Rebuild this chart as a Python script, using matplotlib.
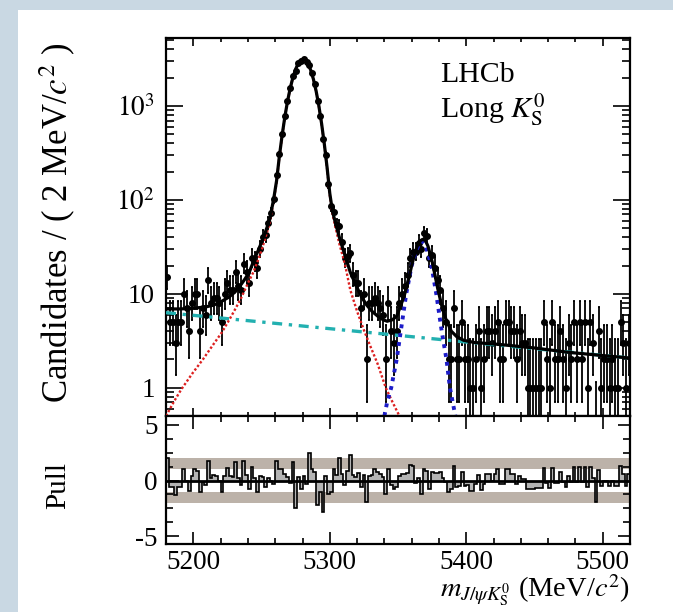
import numpy as np
import matplotlib
matplotlib.use("Agg")
import matplotlib.pyplot as plt
from matplotlib.ticker import MultipleLocator, LogLocator, NullFormatter
from matplotlib.patches import Rectangle

plt.rcParams['font.family'] = ['Liberation Serif', 'DejaVu Serif']
plt.rcParams['mathtext.fontset'] = 'stix'

# binning: 2 MeV bins from 5180 to 5520
edges = np.arange(5180, 5521, 2)
centers = edges[:-1] + 1

# candidates per bin
counts = [
    15, 5, 5, 3, 5, 5, 10, 7, 4, 8,
    10, 10, 4, 7, 6, 14, 8, 9, 9, 8,
    5, 10, 13, 11, 11, 17, 12, 11, 21, 17,
    13, 24, 22, 19, 30, 40, 42, 57, 72, 102,
    183, 305, 503, 774, 1129, 1543, 2100, 2354, 2870, 3040,
    3155, 2959, 2763, 2225, 1713, 1133, 783, 447, 304, 147,
    86, 74, 54, 53, 36, 24, 25, 27, 16, 13,
    13, 7, 10, 2, 8, 8, 9, 8, 7, 6,
    2, 8, 4, 3, 4, 8, 10, 12, 16, 24,
    28, 28, 35, 30, 44, 41, 24, 26, 19, 14,
    11, 7, 5, 2, 2, 7, 2, 2, 5, 2,
    2, 1, 1, 2, 4, 1, 2, 4, 4, 3,
    4, 5, 2, 2, 5, 5, 4, 4, 2, 4,
    3, 3, 1, 1, 1, 1, 1, 1, 5, 2,
    1, 5, 2, 2, 4, 2, 1, 3, 2, 5,
    2, 5, 2, 5, 1, 5, 3, 0, 4, 1,
    2, 2, 1, 2, 1, 1, 5, 3, 1, 3]

# pulls per bin
pulls = [
    2.0, -0.6, -0.6, -1.3, -0.6, -0.6, 1.0, 0.0, -0.9, 0.4,
    1.0, 0.9, -1.0, -0.1, -0.4, 1.8, 0.2, 0.5, 0.4, 0.0,
    -1.0, 0.4, 1.1, 0.4, 0.3, 1.7, 0.2, -0.4, 1.8, 0.5,
    -0.8, 1.2, 0.2, -1.0, 0.4, 0.3, -0.6, 0.2, 0.0, -0.3,
    1.8, 1.0, 1.0, 0.6, 0.3, -0.2, 1.7, -2.5, 0.3, -0.8,
    0.4, -0.3, 2.5, 1.0, 0.8, -2.2, -1.0, -2.8, 0.4, -1.2,
    -1.0, 1.0, 0.5, 2.0, 0.6, -0.4, 0.9, 2.3, 0.5, 0.3,
    0.7, -0.6, 0.5, -1.9, 0.4, 0.5, 1.0, 0.8, 0.6, 0.3,
    -1.2, 1.0, -0.4, -0.8, -0.6, 0.4, 0.6, 0.6, 0.7, 1.4,
    1.3, -0.2, 0.2, -1.2, 1.0, 0.9, -0.8, 0.8, 0.7, 0.7,
    0.8, 0.2, -0.1, -1.0, -0.8, 1.3, -0.6, -0.5, 0.8, -0.45,
    -0.4, -0.9, -0.9, -0.35, 0.5, -0.85, -0.35, 0.55, 0.55, 0.0,
    0.56, 1.0, -0.35, -0.33, 1.0, 1.0, 0.6, 0.6, -0.3, 0.4,
    0.15, 0.15, -0.73, -0.73, -0.72, -0.71, -0.7, -0.69, 1.1, -0.2,
    -0.67, 1.15, -0.2, -0.18, 0.8, -0.16, -0.61, 0.37, -0.14, 1.2,
    -0.13, 1.25, -0.11, 1.26, -0.55, 1.2, 0.27, -1.9, 0.95, -0.51,
    -0.06, -0.06, -0.5, -0.05, -0.49, -0.49, 1.34, 0.55, -0.47, 0.56]

# total fit
x_tot = [5180, 5190, 5200, 5210, 5215, 5220, 5226, 5230, 5234, 5238,
         5241, 5244, 5248, 5252, 5256, 5259, 5261, 5263, 5265, 5267,
         5269, 5271, 5273, 5275, 5277, 5279, 5280.5, 5282, 5284, 5286,
         5288, 5290, 5292, 5294, 5296, 5298, 5300, 5302, 5304, 5307,
         5311, 5315, 5319, 5323, 5327, 5331, 5335, 5339, 5342, 5346,
         5349, 5352, 5355, 5358, 5360, 5362, 5364, 5366, 5368, 5370,
         5372, 5375, 5377, 5379, 5382, 5385, 5389, 5393, 5398, 5406,
         5423, 5450, 5475, 5500, 5520]
y_tot = [6.9, 6.9, 7.0, 7.3, 7.6, 8.2, 9.2, 10.3, 12.0, 14.5,
         17, 22, 30, 42, 62, 105, 160, 288, 481, 757,
         1119, 1551, 2023, 2478, 2854, 3085, 3140, 3080, 2824, 2417,
         1929, 1437, 999, 648, 392, 222, 117, 75, 58, 40,
         26, 17, 12.5, 9.4, 7.6, 6.5, 5.8, 5.3, 5.1, 5.3,
         5.8, 7.5, 10.1, 15, 20, 26, 32, 36.5, 38, 37,
         32, 22, 16, 11.5, 7.5, 5.4, 4.0, 3.5, 3.2, 3.03,
         2.9, 2.65, 2.38, 2.2, 2.07]

# B0 signal component
x_sig = [5180, 5186, 5191, 5199, 5207, 5214, 5221, 5227, 5231, 5235,
         5240, 5244, 5248, 5252, 5256, 5259, 5261, 5263, 5265, 5267,
         5269, 5271, 5273, 5275, 5277, 5279, 5280.5, 5282, 5284, 5286,
         5288, 5290, 5292, 5294, 5296, 5298, 5300, 5302, 5304, 5307,
         5311, 5315, 5320, 5325, 5330, 5335, 5341, 5346, 5351]
y_sig = [0.5, 0.72, 0.95, 1.4, 2.0, 2.8, 3.9, 5.5, 7.0, 9.0,
         13, 17, 24, 36, 57, 100, 155, 283, 476, 752,
         1114, 1546, 2018, 2473, 2849, 3080, 3135, 3075, 2819, 2412,
         1924, 1432, 994, 643, 387, 217, 112, 70, 52, 34,
         21, 11, 6.5, 4.1, 2.7, 1.8, 1.0, 0.7, 0.5]

# Bs component
x_bs = [5340, 5342, 5345, 5349, 5352, 5356, 5360, 5363, 5365.5, 5367.5,
        5369.5, 5372, 5375, 5378, 5382, 5385.5, 5388, 5392]
y_bs = [0.5, 0.7, 1.0, 2.0, 4.0, 10, 20, 28, 34, 36.5,
        34, 27, 18, 10, 4.0, 2.0, 1.0, 0.5]

# combinatorial background
x_bkg = [5180, 5520]
y_bkg = [6.3, 2.07]

n = np.array(counts, float)
nn = np.maximum(n, 1)
lo = np.where(n > 0, n * (1 - 1/(9*nn) - 1/(3*np.sqrt(nn)))**3, 0)
hi = (n + 1) * (1 - 1/(9*(n + 1)) + 1/(3*np.sqrt(n + 1)))**3
err_lo = n - lo
err_hi = np.where(n > 0, hi - n, 1.148)

fig = plt.figure(figsize=(6.73, 6.12), dpi=100, facecolor='#c9d8e3')
fig.patches.append(Rectangle((18/673, 0), 1 - 18/673, 1 - 10/612,
                             transform=fig.transFigure,
                             facecolor='white', edgecolor='none', zorder=-5))

ax = fig.add_axes([0.2467, 0.3203, 0.6895, 0.6176])
ax2 = fig.add_axes([0.2467, 0.1111, 0.6895, 0.2092], sharex=ax)

ax.errorbar(centers, n, yerr=[err_lo, err_hi], fmt='o', color='black', ms=4.0,
            elinewidth=1.3, capsize=1.0, capthick=1.3, zorder=2)
ax.plot(x_bkg, y_bkg, color='#22b0b0', lw=2.4, ls=(0, (3, 2, 1, 2)), zorder=3)
ax.plot(x_sig, y_sig, color='#dd2020', lw=1.7, ls=(0, (1, 0.9)), zorder=3)
ax.plot(x_bs, y_bs, color='#1c1cc8', lw=2.8, ls=(0, (1, 1.3)), zorder=3)
ax.plot(x_tot, y_tot, color='black', lw=2.3, zorder=4)

ax.set_yscale('log')
ax.set_xlim(5180, 5520)
ax.set_ylim(0.5, 5300)
ax.set_yticks([1, 10, 100, 1000])
ax.set_yticklabels(['1', '10', '$10^{2}$', '$10^{3}$'])
ax.yaxis.set_minor_locator(LogLocator(base=10, subs=np.arange(2, 10)))
ax.yaxis.set_minor_formatter(NullFormatter())
ax.xaxis.set_major_locator(MultipleLocator(100))
ax.xaxis.set_minor_locator(MultipleLocator(20))
ax.tick_params(axis='x', which='both', labelbottom=False)
ax.tick_params(which='both', direction='in', top=True, right=True, width=1.2,
               labelsize=19.5)
ax.tick_params(axis='y', which='major', length=12, pad=8)
ax.tick_params(axis='y', which='minor', length=6)
ax.tick_params(axis='x', which='major', length=6)
ax.tick_params(axis='x', which='minor', length=3)

ax2.axhspan(1, 2, color='#bcb2a9', lw=0, zorder=1)
ax2.axhspan(-2, -1, color='#bcb2a9', lw=0, zorder=1)
ax2.stairs(pulls, edges, baseline=0, fill=True, facecolor='#b4b4b4',
           edgecolor='black', lw=1.2, zorder=2)
ax2.axhline(0, color='black', lw=2, zorder=3)
ax2.set_ylim(-5.7, 5.8)
ax2.set_yticks([-5, 0, 5])
ax2.set_yticklabels(['-5', '0', '5'])
ax2.yaxis.set_minor_locator(MultipleLocator(1.25))
ax2.set_xticks([5200, 5300, 5400, 5500])
ax2.set_xticklabels(['5200', '5300', '5400', '5500'])
ax2.tick_params(which='both', direction='in', top=True, right=True, width=1.2,
                labelsize=19.5)
ax2.tick_params(axis='x', which='major', length=9, pad=4)
ax2.tick_params(axis='x', which='minor', length=4)
ax2.tick_params(axis='y', which='major', length=9, pad=6)
ax2.tick_params(axis='y', which='minor', length=5)

for a in (ax, ax2):
    for s in a.spines.values():
        s.set_linewidth(1.6)

fig.text(58/673, 0.6356, r'Candidates / ( 2 MeV/$c^{2}$ )', rotation=90,
         ha='center', va='center', fontsize=25)
fig.text(58/673, 0.2075, 'Pull', rotation=90, ha='center', va='center', fontsize=21)
fig.text(0.936, 0.0235, r'$m_{J/\psi K^0_{\rm S}}$ (MeV/$c^{2}$)', ha='right',
         va='baseline', fontsize=20.5)
fig.text(440/673, 0.8668, 'LHCb', fontsize=21.5, va='baseline')
fig.text(440/673, 0.8072, r'Long $K^0_{\rm S}$', fontsize=21.5, va='baseline')

fig.savefig('out.png', dpi=100, facecolor=fig.get_facecolor())
